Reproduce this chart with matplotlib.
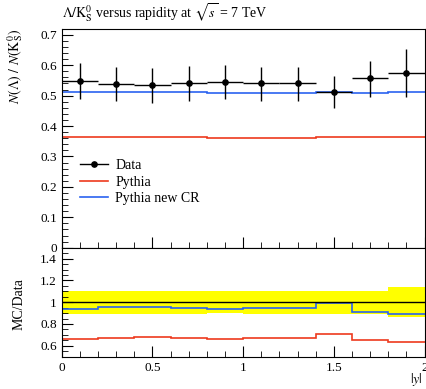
import matplotlib
matplotlib.use("Agg")
import matplotlib.pyplot as plt
import numpy as np
from matplotlib.ticker import MultipleLocator, FixedLocator, FuncFormatter
from matplotlib.lines import Line2D

plt.rcParams['font.family'] = ['Liberation Serif', 'DejaVu Serif']
plt.rcParams['mathtext.fontset'] = 'stix'

# Data (bins in |y|)
bin_edges = [0.0, 0.2, 0.4, 0.6, 0.8, 1.0, 1.2, 1.4, 1.6, 1.8, 2.0]
data_vals = [0.549, 0.538, 0.535, 0.540, 0.544, 0.540, 0.540, 0.513, 0.558, 0.575]
data_err_up = [0.058, 0.055, 0.055, 0.056, 0.057, 0.055, 0.055, 0.052, 0.057, 0.078]
data_err_dn = [0.060, 0.056, 0.058, 0.058, 0.056, 0.058, 0.057, 0.055, 0.061, 0.080]
pythia_vals = [0.363, 0.363, 0.364, 0.364, 0.362, 0.362, 0.362, 0.364, 0.363, 0.365]
pythia_cr_vals = [0.513, 0.513, 0.511, 0.513, 0.510, 0.510, 0.510, 0.511, 0.509, 0.511]

title = r"$\Lambda/\mathrm{K}^0_\mathrm{S}$ versus rapidity at $\sqrt{s}$ = 7 TeV"
ylabel_main = r"$N(\Lambda)\ /\ N(\mathrm{K}^0_\mathrm{S})$"
ylabel_ratio = "MC/Data"
xlabel = r"$|y|$"
labels = ["Data", "Pythia", "Pythia new CR"]

col_red = "#ee3a1e"
col_blue = "#2a62f0"

edges = np.array(bin_edges)
centers = 0.5 * (edges[:-1] + edges[1:])
halfw = 0.5 * (edges[1:] - edges[:-1])
dv = np.array(data_vals)
eu = np.array(data_err_up)
ed = np.array(data_err_dn)
py = np.array(pythia_vals)
pycr = np.array(pythia_cr_vals)

fig = plt.figure(figsize=(4.27, 3.89), dpi=100)
W, H = 427, 389
L, R = 61.7, 424.5
ax = fig.add_axes([L / W, 1 - 247.7 / H, (R - L) / W, (247.7 - 29.3) / H])
axr = fig.add_axes([L / W, 1 - 356.7 / H, (R - L) / W, (356.7 - 247.7) / H])

# main panel
ax.stairs(py, edges, baseline=None, color=col_red, lw=1.2, zorder=2)
ax.stairs(pycr, edges, baseline=None, color=col_blue, lw=1.2, zorder=2)
ax.errorbar(centers, dv, xerr=halfw, yerr=[ed, eu], fmt='o', color='black',
            ms=3.8, elinewidth=1.0, capsize=0, zorder=3)
ax.set_xlim(0, 2)
ax.set_ylim(0, 0.718)
ax.yaxis.set_major_locator(MultipleLocator(0.1))
ax.yaxis.set_minor_locator(MultipleLocator(0.02))
ax.xaxis.set_major_locator(MultipleLocator(0.5))
ax.xaxis.set_minor_locator(MultipleLocator(0.1))
ax.set_xticklabels([])
ax.yaxis.set_major_formatter(FuncFormatter(lambda v, p: "0" if abs(v) < 1e-9 else f"{v:.1f}"))
ax.tick_params(which='both', direction='in', top=False, right=False, labelsize=9.5)
ax.tick_params(which='major', length=8, width=0.8)
ax.tick_params(which='minor', length=4, width=0.6)
ax.set_ylabel(ylabel_main, fontsize=10, loc='top')
ax.yaxis.set_label_coords(-0.10, 1.0)

handles = [
    Line2D([], [], color='black', lw=1.0, marker='o', ms=3.8),
    Line2D([], [], color=col_red, lw=1.2),
    Line2D([], [], color=col_blue, lw=1.2),
]
ax.legend(handles, labels, loc='upper left',
          bbox_to_anchor=(0.05, 0.405), frameon=False, fontsize=10,
          handlelength=2.0, labelspacing=0.25, handletextpad=0.55,
          borderaxespad=0, borderpad=0)

fig.text(L / W, 1 - 13 / H, title, fontsize=10, ha='left', va='center')

# ratio panel
rel_up = 1 + eu / dv
rel_dn = 1 - ed / dv
axr.stairs(rel_up, edges, baseline=rel_dn, fill=True, color='#ffff00', lw=0, zorder=1)
axr.axhline(1.0, color='black', lw=1.0, zorder=3)
axr.stairs(py / dv, edges, baseline=None, color=col_red, lw=1.2, zorder=2)
axr.stairs(pycr / dv, edges, baseline=None, color=col_blue, lw=1.2, zorder=2)
axr.set_xlim(0, 2)
axr.set_ylim(0.5, 1.5)
axr.yaxis.set_major_locator(FixedLocator([0.6, 0.8, 1.0, 1.2, 1.4]))
axr.yaxis.set_minor_locator(MultipleLocator(0.05))
axr.xaxis.set_major_locator(MultipleLocator(0.5))
axr.xaxis.set_minor_locator(MultipleLocator(0.1))
axr.xaxis.set_major_formatter(FuncFormatter(lambda v, p: f"{v:g}"))
axr.yaxis.set_major_formatter(FuncFormatter(lambda v, p: f"{v:g}"))
axr.tick_params(which='both', direction='in', top=False, right=False, labelsize=9.5)
axr.tick_params(which='major', length=8, width=0.8)
axr.tick_params(which='minor', length=4, width=0.6)
axr.tick_params(axis='x', pad=4)
axr.set_ylabel(ylabel_ratio, fontsize=10)
axr.yaxis.set_label_coords(-0.10, 0.48)

fig.text(423 / W, 1 - 388 / H, xlabel, fontsize=10, ha='right', va='bottom')

fig.savefig("out.png", dpi=100)
